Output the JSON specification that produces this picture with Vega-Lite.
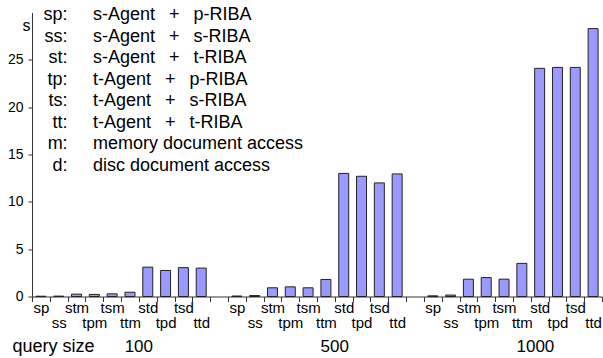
{
  "$schema": "https://vega.github.io/schema/vega-lite/v6.json",
  "width": 570,
  "height": 284,
  "autosize": {"type": "none"},
  "padding": {"left": 32, "top": 12.5, "right": 1, "bottom": 61.5},
  "config": {"view": {"stroke": null}, "font": "Liberation Sans"},
  "datasets": {
    "times": [
      {"size": "100", "label": "sp", "slot": "100|sp", "time": 0.03},
      {"size": "100", "label": "ss", "slot": "100|ss", "time": 0.04},
      {"size": "100", "label": "stm", "slot": "100|stm", "time": 0.25},
      {"size": "100", "label": "tpm", "slot": "100|tpm", "time": 0.22},
      {"size": "100", "label": "tsm", "slot": "100|tsm", "time": 0.28},
      {"size": "100", "label": "ttm", "slot": "100|ttm", "time": 0.45},
      {"size": "100", "label": "std", "slot": "100|std", "time": 3.1},
      {"size": "100", "label": "tpd", "slot": "100|tpd", "time": 2.75},
      {"size": "100", "label": "tsd", "slot": "100|tsd", "time": 3.05},
      {"size": "100", "label": "ttd", "slot": "100|ttd", "time": 3.0},
      {"size": "500", "label": "sp", "slot": "500|sp", "time": 0.05},
      {"size": "500", "label": "ss", "slot": "500|ss", "time": 0.1},
      {"size": "500", "label": "stm", "slot": "500|stm", "time": 0.92},
      {"size": "500", "label": "tpm", "slot": "500|tpm", "time": 1.02},
      {"size": "500", "label": "tsm", "slot": "500|tsm", "time": 0.92},
      {"size": "500", "label": "ttm", "slot": "500|ttm", "time": 1.8},
      {"size": "500", "label": "std", "slot": "500|std", "time": 13.0},
      {"size": "500", "label": "tpd", "slot": "500|tpd", "time": 12.7},
      {"size": "500", "label": "tsd", "slot": "500|tsd", "time": 12.0},
      {"size": "500", "label": "ttd", "slot": "500|ttd", "time": 12.95},
      {"size": "1000", "label": "sp", "slot": "1000|sp", "time": 0.07},
      {"size": "1000", "label": "ss", "slot": "1000|ss", "time": 0.15},
      {"size": "1000", "label": "stm", "slot": "1000|stm", "time": 1.83},
      {"size": "1000", "label": "tpm", "slot": "1000|tpm", "time": 2.0},
      {"size": "1000", "label": "tsm", "slot": "1000|tsm", "time": 1.83},
      {"size": "1000", "label": "ttm", "slot": "1000|ttm", "time": 3.5},
      {"size": "1000", "label": "std", "slot": "1000|std", "time": 24.1},
      {"size": "1000", "label": "tpd", "slot": "1000|tpd", "time": 24.2},
      {"size": "1000", "label": "tsd", "slot": "1000|tsd", "time": 24.2},
      {"size": "1000", "label": "ttd", "slot": "1000|ttd", "time": 28.3}
    ],
    "legend": [
      {"key": "sp:", "desc": "s-Agent \u2002+\u2002 p-RIBA"},
      {"key": "ss:", "desc": "s-Agent \u2002+\u2002 s-RIBA"},
      {"key": "st:", "desc": "s-Agent \u2002+\u2002 t-RIBA"},
      {"key": "tp:", "desc": "t-Agent \u2002+\u2002 p-RIBA"},
      {"key": "ts:", "desc": "t-Agent \u2002+\u2002 s-RIBA"},
      {"key": "tt:", "desc": "t-Agent \u2002+\u2002 t-RIBA"},
      {"key": "m:", "desc": "memory document access"},
      {"key": "d:", "desc": "disc document access"}
    ]
  },
  "layer": [
    {
      "layer": [
        {
          "data": {"name": "times"},
          "mark": {"type": "bar", "fill": "#9999ff", "stroke": "#222", "strokeWidth": 1, "width": {"band": 0.56}},
          "encoding": {
            "x": {
              "field": "slot",
              "type": "nominal",
              "scale": {
                "domain": ["100|sp", "100|ss", "100|stm", "100|tpm", "100|tsm", "100|ttm", "100|std", "100|tpd", "100|tsd", "100|ttd", "g1|",
                           "500|sp", "500|ss", "500|stm", "500|tpm", "500|tsm", "500|ttm", "500|std", "500|tpd", "500|tsd", "500|ttd", "g2|",
                           "1000|sp", "1000|ss", "1000|stm", "1000|tpm", "1000|tsm", "1000|ttm", "1000|std", "1000|tpd", "1000|tsd", "1000|ttd"],
                "paddingInner": 0,
                "paddingOuter": 0
              },
              "axis": {
                "title": "query size",
                "titleX": -20,
                "titleY": 55.4,
                "titleAlign": "left",
                "titleBaseline": "alphabetic",
                "titleFontSize": 18,
                "titleFontWeight": "normal",
                "titleColor": "#000",
                "tickBand": "extent",
                "labelExpr": "test(/^(ss|tpm|ttm|tpd|ttd)$/, split(datum.value, '|')[1]) ? [' ', split(datum.value, '|')[1]] : split(datum.value, '|')[1]",
                "labelAngle": 0,
                "labelOverlap": false,
                "labelBound": false,
                "labelFlush": false,
                "labelFontSize": 15,
                "labelPadding": -1,
                "labelLineHeight": 14.5,
                "labelBaseline": "top",
                "labelColor": "#000",
                "tickSize": 5,
                "tickColor": "#333",
                "domainColor": "#333",
                "grid": false
              }
            },
            "y": {
              "field": "time",
              "type": "quantitative",
              "scale": {"domain": [0, 30], "nice": false},
              "axis": {
                "values": [0, 2.5, 5, 7.5, 10, 12.5, 15, 17.5, 20, 22.5, 25],
                "labelExpr": "datum.value % 5 === 0 ? datum.label : ''",
                "title": "s",
                "titleAngle": 0,
                "titleX": -6,
                "titleY": 17.5,
                "titleAlign": "center",
                "titleBaseline": "alphabetic",
                "titleFontSize": 16,
                "titleFontWeight": "normal",
                "titleColor": "#000",
                "labelFontSize": 14,
                "labelPadding": 5,
                "labelColor": "#000",
                "tickSize": 4,
                "tickColor": "#333",
                "domainColor": "#333",
                "grid": false
              }
            }
          }
        },
        {
          "data": {"name": "times"},
          "transform": [{"filter": "datum.label === 'ttm'"}],
          "mark": {"type": "text", "align": "left", "baseline": "alphabetic", "dy": 55.4, "fontSize": 17, "color": "#000"},
          "encoding": {
            "x": {"field": "slot", "type": "nominal", "bandPosition": 0.2},
            "y": {"datum": 0, "type": "quantitative"},
            "text": {"field": "size"}
          }
        }
      ]
    },
    {
      "data": {"name": "legend"},
      "encoding": {
        "y": {
          "field": "key",
          "type": "ordinal",
          "sort": null,
          "scale": {"type": "point", "domain": ["sp:", "ss:", "st:", "tp:", "ts:", "tt:", "m:", "d:", "_1", "_2", "_3", "_4", "_5"], "padding": 0.6, "align": 0},
          "axis": null
        }
      },
      "layer": [
        {
          "mark": {"type": "text", "align": "right", "baseline": "middle", "dy": 2.5, "fontSize": 18, "color": "#000"},
          "encoding": {
            "x": {"datum": "100|stm", "type": "nominal", "bandPosition": 0},
            "text": {"field": "key"}
          }
        },
        {
          "mark": {"type": "text", "align": "left", "baseline": "middle", "dy": 2.5, "fontSize": 18, "color": "#000"},
          "encoding": {
            "x": {"datum": "100|tpm", "type": "nominal", "bandPosition": 0.42},
            "text": {"field": "desc"}
          }
        }
      ]
    }
  ],
  "resolve": {"scale": {"y": "independent"}}
}
